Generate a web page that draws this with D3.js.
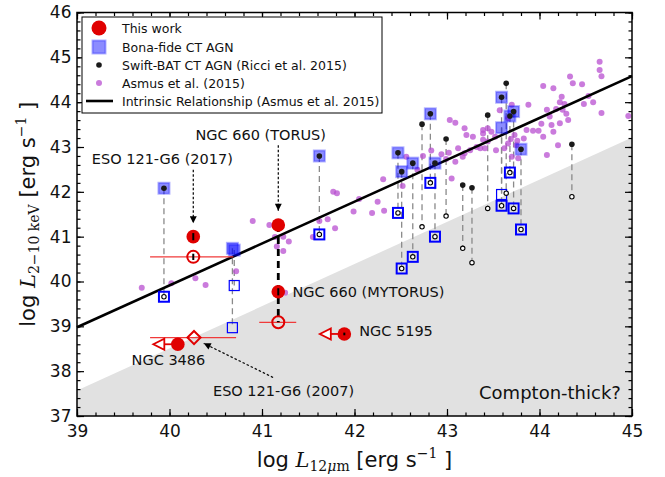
<!DOCTYPE html>
<html>
<head>
<meta charset="utf-8">
<script src="https://cdnjs.cloudflare.com/ajax/libs/d3/7.8.5/d3.min.js"></script>
<style>
  body { margin: 0; background: #fff; }
  text { font-family: "DejaVu Sans", sans-serif; }
</style>
</head>
<body>
<svg id="chart" width="665" height="477"></svg>
<script>
// axis ticks and labels
var xMajor = [39, 40, 41, 42, 43, 44, 45];
var yMajor = [37, 38, 39, 40, 41, 42, 43, 44, 45, 46];
var minorStep = 0.2;

// Asmus et al. (2015) sample: [log L12um, log L2-10keV]
var asmus = [
  [39.70,39.86],[40.02,39.96],[40.28,40.07],[40.39,39.92],[40.72,40.23],
  [40.90,41.35],[41.08,41.26],[41.14,40.99],[41.23,41.00],[41.29,40.89],[41.23,40.68],[41.16,40.78],[41.25,39.75],
  [41.55,40.99],[41.62,41.35],[41.71,41.39],[41.79,41.19],[41.77,42.00],[41.81,41.97],
  [41.99,41.56],[42.05,41.84],[42.19,41.53],[42.25,41.78],[42.32,41.58],[42.31,42.28],
  [42.52,42.13],[42.56,42.78],[42.68,42.49],[42.74,42.80],[42.83,42.92],[42.94,42.84],[42.99,42.73],
  [43.02,42.87],[43.05,42.30],[43.09,42.67],[43.12,42.97],[43.17,42.78],[43.19,42.86],[43.25,42.93],
  [43.03,43.60],[43.09,43.54],[43.19,43.42],[43.21,43.27],[43.28,43.23],[43.32,43.00],[43.36,42.97],
  [43.39,43.30],[43.39,43.38],[43.44,43.42],[43.48,43.34],[43.39,43.16],[43.44,43.12],[43.41,42.97],[43.52,43.23],[43.53,42.93],
  [43.57,43.82],[43.66,43.64],[43.70,43.94],[43.73,43.27],[43.75,43.04],[43.66,43.08],[43.70,42.78],[43.77,42.75],
  [43.62,42.97],[43.69,43.18],[43.76,43.14],
  [43.83,43.19],[43.86,43.38],[43.88,43.94],[43.93,43.36],[43.99,43.36],[44.02,43.52],
  [44.04,44.36],[44.15,44.31],[44.24,44.12],[44.22,44.00],[44.33,44.57],[44.36,44.42],[44.46,44.40],[44.53,44.14],
  [44.27,43.96],[44.25,43.83],[44.29,43.74],[44.18,43.85],[44.31,43.60],[44.22,43.53],[44.13,43.49],[44.08,43.83],[44.11,43.68],
  [44.20,43.04],[44.08,42.82],[44.15,43.34],[44.04,43.23],
  [44.48,43.96],[44.58,44.00],[44.67,43.76],[44.65,44.72],[44.67,44.58],[44.65,44.90],[44.96,43.69]
];

// bona-fide CT AGN: [log L12um, intrinsic log LX, observed log LX, also in Swift-BAT]
var bonaFide = [
  [39.94, 42.08, 39.66, 1],
  [40.68, 40.74, 38.97, 0],
  [40.70, 40.70, 39.91, 0],
  [41.62, 42.80, 41.05, 1],
  [42.47, 42.87, 41.53, 1],
  [42.51, 42.45, 40.29, 1],
  [42.63, 42.64, 40.55, 1],
  [42.82, 43.74, 42.20, 1],
  [42.87, 42.64, 41.00, 1],
  [43.59, 44.11, 41.69, 1],
  [43.59, 43.43, 41.94, 0],
  [43.68, 43.69, 42.43, 1],
  [43.72, 43.79, 41.63, 1],
  [43.80, 42.95, 41.16, 1]
];

// Swift-BAT CT AGN (Ricci et al. 2015): [log L12um, intrinsic log LX, observed log LX]
var swiftBat = [
  [42.73, 43.51, 41.22],
  [42.99, 43.18, 41.46],
  [43.17, 42.15, 40.74],
  [43.27, 42.09, 40.42],
  [43.44, 43.71, 41.63],
  [43.64, 44.42, 41.97],
  [44.35, 43.06, 41.89]
];

// this work, filled points: ESO 121-G6 (2017), NGC 660 torus, NGC 660 mytorus, NGC 3486, NGC 5195
var workX = [40.257, 41.176, 41.176, 40.09, 41.89];
var workY = [41.00, 41.26, 39.77, 38.60, 38.83];
// observed (open circles) with x error bars: ESO 121-G6 (2017), NGC 660
var obsX = [40.257, 41.176];
var obsY = [40.55, 39.09];
var obsXLo = [39.79, 40.97];
var obsXHi = [40.69, 41.37];
// ESO 121-G6 (2007) diamond
var eso07 = [40.265, 38.75];
var eso07XLo = 39.79, eso07XHi = 40.72;
// upper limits on L12um: NGC 3486, NGC 5195
var limX = [39.89, 41.69];
var limFrom = [40.09, 41.89];
var limY = [38.60, 38.83];

// intrinsic relation and the Compton-thick edge, as end points
var relX = [39, 45], relY = [38.98, 44.58];
var ctX = [39, 45], ctY = [37.57, 43.21];

// annotations
var labelText = ["ESO 121-G6 (2017)", "NGC 660 (TORUS)", "NGC 660 (MYTORUS)", "NGC 3486", "NGC 5195", "ESO 121-G6 (2007)"];
var labelX = [39.16, 40.28, 41.33, 39.59, 42.05, 40.47];
var labelY = [42.62, 43.16, 39.65, 38.14, 38.78, 37.45];
var arrowFrom = [[40.257, 42.49], [41.176, 43.04], [41.12, 37.86]];
var arrowTo = [[40.257, 41.30], [41.176, 41.58], [40.37, 38.62]];

var red = "#e00000", blue = "#0000ff", purple = "#b84fd0";

var svg = d3.select("#chart");
var plotLeft = 77, plotRight = 632, plotTop = 12.5, plotBottom = 416;

var x = d3.scaleLinear().domain([39, 45]).range([plotLeft, plotRight]);
var y = d3.scaleLinear().domain([37, 46]).range([plotBottom, plotTop]);

svg.append("defs").append("marker")
  .attr("id", "head")
  .attr("viewBox", "0 0 10 10")
  .attr("refX", 10).attr("refY", 5)
  .attr("markerWidth", 8).attr("markerHeight", 7)
  .attr("markerUnits", "userSpaceOnUse")
  .attr("orient", "auto")
  .append("path").attr("d", "M0,0L10,5L0,10z").attr("fill", "black");

var plot = svg.append("g");

// compton-thick region
plot.append("path")
  .attr("d", d3.line()([
    [x(ctX[0]), y(ctY[0])], [x(ctX[1]), y(ctY[1])],
    [x(ctX[1]), y(37)], [x(ctX[0]), y(37)]
  ]) + "Z")
  .attr("fill", "#e1e1e1");

// dashed connectors intrinsic -> observed
plot.selectAll(".conn")
  .data(bonaFide.concat(swiftBat))
  .enter().append("line")
  .attr("x1", function(d) { return x(d[0]); })
  .attr("x2", function(d) { return x(d[0]); })
  .attr("y1", function(d) { return y(d[1]); })
  .attr("y2", function(d) { return y(d[2]); })
  .attr("stroke", "#8a8a8a")
  .attr("stroke-width", 1.3)
  .attr("stroke-dasharray", "6,4");

// asmus points
plot.selectAll(".asmus")
  .data(asmus)
  .enter().append("circle")
  .attr("cx", function(d) { return x(d[0]); })
  .attr("cy", function(d) { return y(d[1]); })
  .attr("r", 3)
  .attr("fill", purple)
  .attr("fill-opacity", 0.75);

// intrinsic relationship
plot.append("line")
  .attr("x1", x(relX[0])).attr("y1", y(relY[0]))
  .attr("x2", x(relX[1])).attr("y2", y(relY[1]))
  .attr("stroke", "black")
  .attr("stroke-width", 2.6);

// bona-fide intrinsic (filled translucent squares)
var sq = 11;
plot.selectAll(".bfUp")
  .data(bonaFide)
  .enter().append("rect")
  .attr("x", function(d) { return x(d[0]) - sq / 2; })
  .attr("y", function(d) { return y(d[1]) - sq / 2; })
  .attr("width", sq).attr("height", sq)
  .attr("fill", blue).attr("fill-opacity", 0.45)
  .attr("stroke", blue).attr("stroke-opacity", 0.3).attr("stroke-width", 2);

// bona-fide observed (open squares)
plot.selectAll(".bfDown")
  .data(bonaFide)
  .enter().append("rect")
  .attr("x", function(d) { return x(d[0]) - 5; })
  .attr("y", function(d) { return y(d[2]) - 5; })
  .attr("width", 10).attr("height", 10)
  .attr("fill", "none")
  .attr("stroke", blue)
  .attr("stroke-width", function(d) { return d[3] ? 2 : 1.2; });

// swift-bat intrinsic dots (also inside bona-fide with BAT data)
var batUp = swiftBat.map(function(d) { return [d[0], d[1]]; })
  .concat(bonaFide.filter(function(d) { return d[3]; }).map(function(d) { return [d[0], d[1]]; }));
var batDown = swiftBat.map(function(d) { return [d[0], d[2]]; })
  .concat(bonaFide.filter(function(d) { return d[3]; }).map(function(d) { return [d[0], d[2]]; }));

plot.selectAll(".batUp")
  .data(batUp)
  .enter().append("circle")
  .attr("cx", function(d) { return x(d[0]); })
  .attr("cy", function(d) { return y(d[1]); })
  .attr("r", 2.8)
  .attr("fill", "#1a1a1a");

plot.selectAll(".batDown")
  .data(batDown)
  .enter().append("circle")
  .attr("cx", function(d) { return x(d[0]); })
  .attr("cy", function(d) { return y(d[1]); })
  .attr("r", 2.2)
  .attr("fill", "white")
  .attr("stroke", "black")
  .attr("stroke-width", 1.1);

// red x error bars
var errBars = [
  [obsXLo[0], obsXHi[0], obsY[0]],
  [obsXLo[1], obsXHi[1], obsY[1]],
  [eso07XLo, eso07XHi, eso07[1]]
];
plot.selectAll(".xerr")
  .data(errBars)
  .enter().append("line")
  .attr("x1", function(d) { return x(d[0]); })
  .attr("x2", function(d) { return x(d[1]); })
  .attr("y1", function(d) { return y(d[2]); })
  .attr("y2", function(d) { return y(d[2]); })
  .attr("stroke", "#f03a3a")
  .attr("stroke-width", 1.3);

// upper limits: line + open left triangle
limX.forEach(function(lx, i) {
  plot.append("line")
    .attr("x1", x(limFrom[i])).attr("x2", x(lx))
    .attr("y1", y(limY[i])).attr("y2", y(limY[i]))
    .attr("stroke", red).attr("stroke-width", 1.8);
  var cx = x(lx), cy = y(limY[i]);
  plot.append("path")
    .attr("d", "M" + (cx - 6) + "," + cy + "L" + (cx + 5) + "," + (cy - 5.5) + "L" + (cx + 5) + "," + (cy + 5.5) + "Z")
    .attr("fill", "white")
    .attr("stroke", red).attr("stroke-width", 1.8);
});

// NGC 660 thick dashed link
plot.append("line")
  .attr("x1", x(workX[1])).attr("x2", x(workX[1]))
  .attr("y1", y(workY[1])).attr("y2", y(obsY[1]))
  .attr("stroke", "black")
  .attr("stroke-width", 2.8)
  .attr("stroke-dasharray", "7,5");

// open circles (observed)
plot.selectAll(".obs")
  .data(obsX)
  .enter().append("circle")
  .attr("cx", function(d) { return x(d); })
  .attr("cy", function(d, i) { return y(obsY[i]); })
  .attr("r", 6)
  .attr("fill", "none")
  .attr("stroke", red)
  .attr("stroke-width", 2);

// ESO 121-G6 (2007) diamond
plot.append("path")
  .attr("d", d3.symbol().type(d3.symbolDiamond2).size(110))
  .attr("transform", "translate(" + x(eso07[0]) + "," + y(eso07[1]) + ")")
  .attr("fill", "none")
  .attr("stroke", red)
  .attr("stroke-width", 2);

// filled red circles
plot.selectAll(".work")
  .data(workX)
  .enter().append("circle")
  .attr("cx", function(d) { return x(d); })
  .attr("cy", function(d, i) { return y(workY[i]); })
  .attr("r", 6.8)
  .attr("fill", red);

// small black y error bars
var yErr = [[workX[0], workY[0], 0.08], [obsX[0], obsY[0], 0.07], [workX[2], workY[2], 0.08], [workX[4], workY[4], 0.03]];
plot.selectAll(".yerr")
  .data(yErr)
  .enter().append("line")
  .attr("x1", function(d) { return x(d[0]); })
  .attr("x2", function(d) { return x(d[0]); })
  .attr("y1", function(d) { return y(d[1] - d[2]); })
  .attr("y2", function(d) { return y(d[1] + d[2]); })
  .attr("stroke", "black")
  .attr("stroke-width", 2);

// annotation arrows
plot.selectAll(".arrow")
  .data(arrowFrom)
  .enter().append("line")
  .attr("x1", function(d) { return x(d[0]); })
  .attr("y1", function(d) { return y(d[1]); })
  .attr("x2", function(d, i) { return x(arrowTo[i][0]); })
  .attr("y2", function(d, i) { return y(arrowTo[i][1]); })
  .attr("stroke", "black")
  .attr("stroke-width", 1.2)
  .attr("stroke-dasharray", "2.5,2")
  .attr("marker-end", "url(#head)");

plot.selectAll(".label")
  .data(labelText)
  .enter().append("text")
  .attr("x", function(d, i) { return x(labelX[i]); })
  .attr("y", function(d, i) { return y(labelY[i]); })
  .attr("font-size", "14.5px")
  .attr("fill", "#111")
  .text(function(d) { return d; });

plot.append("text")
  .attr("x", x(44.88))
  .attr("y", y(37.37))
  .attr("text-anchor", "end")
  .attr("font-size", "18px")
  .attr("fill", "#111")
  .text("Compton-thick?");

// ticks on all four sides, pointing inwards
function addTicks(axis, values, size, pos, labels, pad) {
  var g = svg.append("g")
    .attr("transform", pos)
    .call(axis.tickValues(values).tickSize(-size).tickPadding(pad || 0)
      .tickFormat(labels ? d3.format("d") : function() { return ""; }));
  g.select(".domain").remove();
  g.attr("font-family", "DejaVu Sans").attr("font-size", 17);
  g.selectAll("line").attr("stroke", "black").attr("stroke-width", 1.2);
  g.selectAll("text").attr("fill", "#111");
}
var xMinor = d3.range(39, 45.001, minorStep);
var yMinor = d3.range(37, 46.001, minorStep);

addTicks(d3.axisBottom(x), xMajor, 7, "translate(0," + plotBottom + ")", true, 9);
addTicks(d3.axisBottom(x), xMinor, 3.5, "translate(0," + plotBottom + ")", false);
addTicks(d3.axisTop(x), xMajor, 7, "translate(0," + plotTop + ")", false);
addTicks(d3.axisTop(x), xMinor, 3.5, "translate(0," + plotTop + ")", false);
addTicks(d3.axisLeft(y), yMajor, 7, "translate(" + plotLeft + ",0)", true, 5.5);
addTicks(d3.axisLeft(y), yMinor, 3.5, "translate(" + plotLeft + ",0)", false);
addTicks(d3.axisRight(y), yMajor, 7, "translate(" + plotRight + ",0)", false);
addTicks(d3.axisRight(y), yMinor, 3.5, "translate(" + plotRight + ",0)", false);

// frame
svg.append("rect")
  .attr("x", plotLeft).attr("y", plotTop)
  .attr("width", plotRight - plotLeft).attr("height", plotBottom - plotTop)
  .attr("fill", "none")
  .attr("stroke", "black")
  .attr("stroke-width", 1.5);

// legend
var legend = svg.append("g");
legend.append("rect")
  .attr("x", 82).attr("y", 17).attr("width", 300).attr("height", 96)
  .attr("fill", "white").attr("stroke", "black").attr("stroke-width", 1);
var legendText = ["This work", "Bona-fide CT AGN", "Swift-BAT CT AGN (Ricci et al. 2015)", "Asmus et al. (2015)", "Intrinsic Relationship (Asmus et al. 2015)"];
var legendY = [28, 47, 65, 83, 101];
legend.append("circle").attr("cx", 99).attr("cy", legendY[0]).attr("r", 7.5).attr("fill", red);
legend.append("rect").attr("x", 92.5).attr("y", legendY[1] - 6.5).attr("width", 13).attr("height", 13)
  .attr("fill", blue).attr("fill-opacity", 0.45)
  .attr("stroke", blue).attr("stroke-opacity", 0.3).attr("stroke-width", 2);
legend.append("circle").attr("cx", 99).attr("cy", legendY[2]).attr("r", 2.8).attr("fill", "#1a1a1a");
legend.append("circle").attr("cx", 99).attr("cy", legendY[3]).attr("r", 3).attr("fill", purple).attr("fill-opacity", 0.75);
legend.append("line").attr("x1", 86).attr("x2", 113).attr("y1", legendY[4]).attr("y2", legendY[4])
  .attr("stroke", "black").attr("stroke-width", 2.6);
legend.selectAll(".lt")
  .data(legendText)
  .enter().append("text")
  .attr("x", 122)
  .attr("y", function(d, i) { return legendY[i] + 4.5; })
  .attr("font-size", "12.5px")
  .attr("fill", "#111")
  .text(function(d) { return d; });

// axis titles with math-style parts
var xt = svg.append("text")
  .attr("x", (plotLeft + plotRight) / 2)
  .attr("y", 467)
  .attr("text-anchor", "middle")
  .attr("font-size", "21px")
  .attr("fill", "#111");
xt.append("tspan").text("log ");
xt.append("tspan").attr("font-family", "DejaVu Serif").attr("font-style", "italic").text("L");
xt.append("tspan").attr("font-family", "DejaVu Serif").attr("font-size", "14px").attr("dy", 4).text("12");
xt.append("tspan").attr("font-family", "DejaVu Serif").attr("font-style", "italic").attr("font-size", "14px").text("μ");
xt.append("tspan").attr("font-family", "DejaVu Serif").attr("font-size", "14px").text("m");
xt.append("tspan").attr("dy", -4).text(" [erg s");
xt.append("tspan").attr("font-family", "DejaVu Serif").attr("font-size", "14px").attr("dy", -9).text("−1");
xt.append("tspan").attr("dy", 9).text(" ]");

var yt = svg.append("text")
  .attr("transform", "translate(35," + ((plotTop + plotBottom) / 2) + ") rotate(-90)")
  .attr("text-anchor", "middle")
  .attr("font-size", "21px")
  .attr("fill", "#111");
yt.append("tspan").text("log ");
yt.append("tspan").attr("font-family", "DejaVu Serif").attr("font-style", "italic").text("L");
yt.append("tspan").attr("font-family", "DejaVu Serif").attr("font-size", "14px").attr("dy", 4).text("2−10 keV");
yt.append("tspan").attr("dy", -4).text(" [erg s");
yt.append("tspan").attr("font-family", "DejaVu Serif").attr("font-size", "14px").attr("dy", -9).text("−1");
yt.append("tspan").attr("dy", 9).text(" ]");
</script>
</body>
</html>
